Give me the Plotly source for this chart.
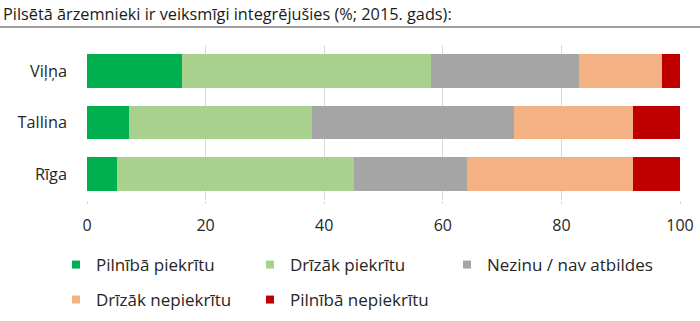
import plotly.graph_objects as go

cities = ["Viļņa", "Tallina", "Rīga"]
series_names = ["Pilnībā piekrītu", "Drīzāk piekrītu", "Nezinu / nav atbildes",
                "Drīzāk nepiekrītu", "Pilnībā nepiekrītu"]
fully_agree = [16, 7, 5]
rather_agree = [42, 31, 40]
dont_know = [25, 34, 19]
rather_disagree = [14, 20, 28]
fully_disagree = [3, 8, 8]
x_ticks = [0, 20, 40, 60, 80, 100]

values = [fully_agree, rather_agree, dont_know, rather_disagree, fully_disagree]
colors = ["#00b050", "#a9d18e", "#a5a5a5", "#f4b183", "#c00000"]

W, H = 700, 321
L, R, T, B = 87, 20, 45, 121
pw = W - L - R
ph = H - T - B

# legend entry placement (container pixels): marker-area left edge, row centre
legend_pos = [(56, 265), (250, 265), (447, 265), (56, 300), (250, 300)]
legend_ids = ["legend", "legend2", "legend3", "legend4", "legend5"]

fig = go.Figure()
for name, vals, col in zip(series_names, values, colors):
    fig.add_trace(go.Bar(y=cities, x=vals, orientation="h", name=name,
                         marker=dict(color=col, line=dict(width=0)),
                         showlegend=False, hoverinfo="x+name"))
for name, col, lid in zip(series_names, colors, legend_ids):
    fig.add_trace(go.Scatter(x=[None], y=[None], mode="markers", name=name,
                             marker=dict(symbol="square", size=8, color=col),
                             legend=lid))

font = "Open Sans, sans-serif"
legends = {}
for lid, (lx, ly) in zip(legend_ids, legend_pos):
    legends[lid] = dict(orientation="h", xref="container", yref="container",
                        x=lx / W, y=1 - ly / H, xanchor="left", yanchor="middle",
                        font=dict(family=font, size=17, color="#262626"),
                        bgcolor="rgba(0,0,0,0)", itemclick=False,
                        itemdoubleclick=False)

fig.update_layout(
    width=W, height=H, margin=dict(l=L, r=R, t=T, b=B, autoexpand=False),
    barmode="stack", bargap=0.35,
    plot_bgcolor="white", paper_bgcolor="white",
    title=dict(text="Pilsētā ārzemnieki ir veiksmīgi integrējušies (%; 2015. gads):",
               x=3 / W, xref="container", xanchor="left",
               y=1 - 14 / H, yref="container", yanchor="middle",
               font=dict(family=font, size=16.3, color="#1a1a1a")),
    xaxis=dict(range=[0, 100], tickvals=x_ticks, showgrid=True, gridcolor="#d9d9d9",
               gridwidth=1, zeroline=False, showline=False, automargin=False,
               ticks="outside", ticklen=3, tickcolor="#d9d9d9",
               ticklabelstandoff=8,
               tickfont=dict(family=font, size=16, color="#262626")),
    yaxis=dict(categoryorder="array", categoryarray=cities[::-1], automargin=False,
               range=[-0.5, 2.5], showgrid=False, zeroline=False, showline=False,
               ticks="", ticklabelstandoff=19,
               tickfont=dict(family=font, size=16.3, color="#262626")),
    shapes=[dict(type="line", xref="paper", yref="paper",
                 x0=-L / pw, x1=(W - L) / pw,
                 y0=1 + (T - 27) / ph, y1=1 + (T - 27) / ph,
                 line=dict(color="#7f7f7f", width=1.5))],
    **legends,
)
fig.write_html("out.html")
